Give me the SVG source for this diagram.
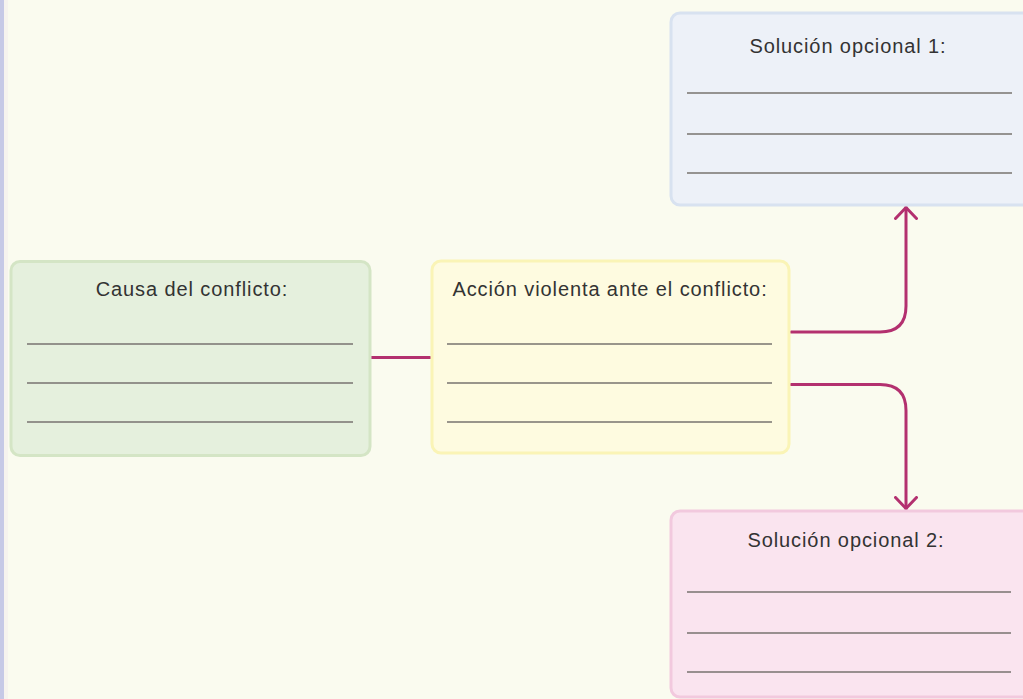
<svg xmlns="http://www.w3.org/2000/svg" width="1023" height="699" viewBox="0 0 1023 699">
<defs>
<style>
.lbl{font-family:"Liberation Sans",Arial,sans-serif;font-size:20px;letter-spacing:0.9px;fill:#333;text-anchor:middle}
.wl{stroke:#77736f;stroke-width:1.6;fill:none}
.con{stroke:#b3306f;stroke-width:3;fill:none;stroke-linecap:round;stroke-linejoin:round}
</style>
<marker id="ah" viewBox="0 0 14 24" refX="13" refY="12" markerWidth="14" markerHeight="24" markerUnits="userSpaceOnUse" orient="auto">
<path d="M1.5,1.5 L12.5,12 L1.5,22.5" fill="none" stroke="#b3306f" stroke-width="3" stroke-linecap="round" stroke-linejoin="round"/>
</marker>
</defs>
<rect x="0" y="0" width="1023" height="699" fill="#fafbef"/>
<rect x="0" y="0" width="4" height="699" fill="#c6c9e6"/>
<rect x="4" y="0" width="4" height="699" fill="#f6f3ee"/>
<g id="connectors">
<path class="con" d="M371,357.5 H430"/>
<path class="con" d="M791,332 H880 Q906,332 906,306 V207" marker-end="url(#ah)"/>
<path class="con" d="M791,384.5 H880 Q906,384.5 906,410.5 V509" marker-end="url(#ah)"/>
</g>
<g id="causa">
<rect x="11" y="261.5" width="359" height="194" rx="9" fill="#e5f0dd" stroke="#d4e5c5" stroke-width="3"/>
<text class="lbl" x="192" y="296">Causa del conflicto:</text>
<line class="wl" x1="27" y1="344" x2="353" y2="344"/>
<line class="wl" x1="27" y1="383" x2="353" y2="383"/>
<line class="wl" x1="27" y1="422" x2="353" y2="422"/>
</g>
<g id="accion">
<rect x="432" y="261" width="357" height="192" rx="9" fill="#fefbe0" stroke="#faf4b6" stroke-width="3"/>
<text class="lbl" x="610" y="296">Acción violenta ante el conflicto:</text>
<line class="wl" x1="447" y1="344" x2="772" y2="344"/>
<line class="wl" x1="447" y1="383" x2="772" y2="383"/>
<line class="wl" x1="447" y1="422" x2="772" y2="422"/>
</g>
<g id="solucion1">
<rect x="671" y="13" width="365" height="192" rx="9" fill="#edf1f8" stroke="#d8e2f0" stroke-width="3"/>
<text class="lbl" x="848" y="53">Solución opcional 1:</text>
<line class="wl" x1="687" y1="93" x2="1012" y2="93"/>
<line class="wl" x1="687" y1="134" x2="1012" y2="134"/>
<line class="wl" x1="687" y1="173" x2="1012" y2="173"/>
</g>
<g id="solucion2">
<rect x="671" y="511" width="365" height="186" rx="9" fill="#fae4ef" stroke="#f2c9de" stroke-width="3"/>
<text class="lbl" x="846" y="547">Solución opcional 2:</text>
<line class="wl" x1="687" y1="592" x2="1011" y2="592"/>
<line class="wl" x1="687" y1="633" x2="1011" y2="633"/>
<line class="wl" x1="687" y1="672" x2="1011" y2="672"/>
</g>
</svg>
